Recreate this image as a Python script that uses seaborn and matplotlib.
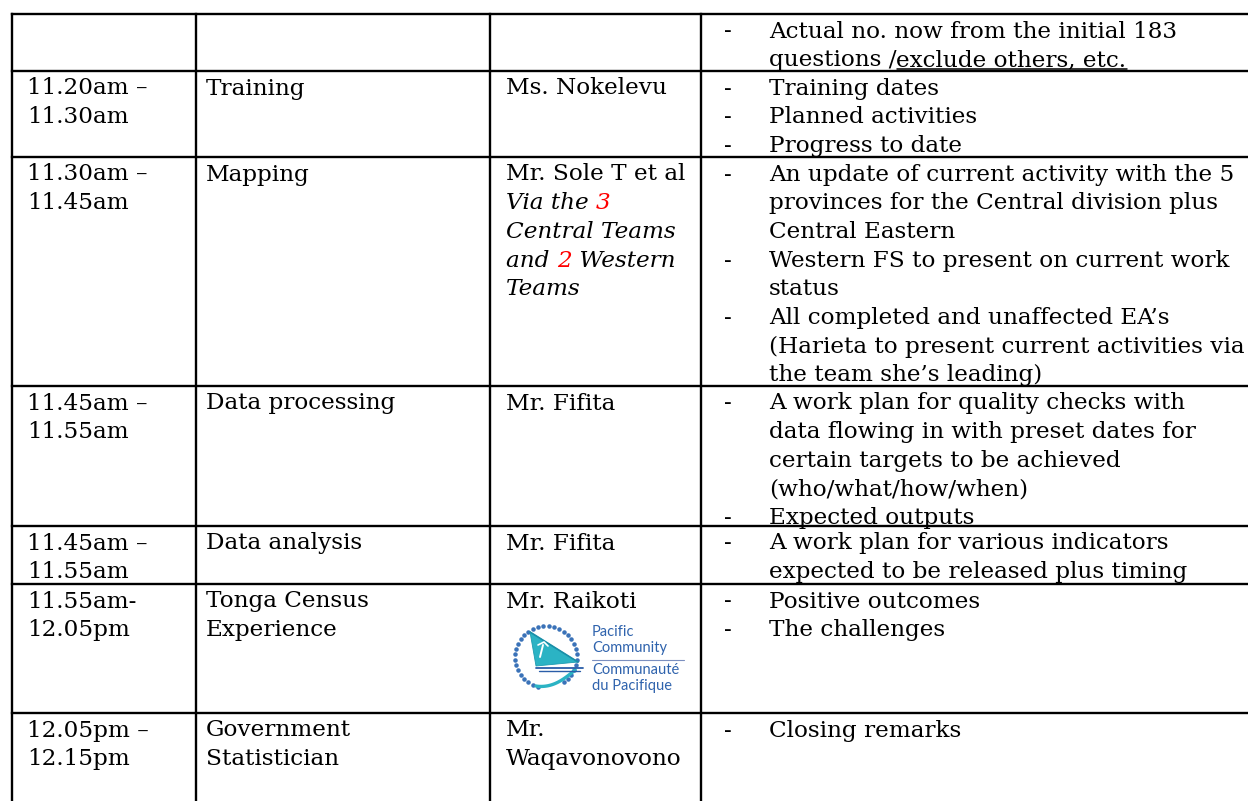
import matplotlib
matplotlib.use("Agg")
import matplotlib.pyplot as plt
import seaborn as sns
import numpy as np
from matplotlib.patches import Polygon

sns.set_theme(style="white")
plt.rcParams['font.family'] = ['DejaVu Serif']

# ---------------- data ----------------
times = [[], ["11.20am –", "11.30am"], ["11.30am –", "11.45am"], ["11.45am –", "11.55am"],
         ["11.45am –", "11.55am"], ["11.55am-", "12.05pm"], ["12.05pm –", "12.15pm"]]
sessions = [[], ["Training"], ["Mapping"], ["Data processing"], ["Data analysis"],
            ["Tonga Census", "Experience"], ["Government", "Statistician"]]
presenters = [[], ["Ms. Nokelevu"], ["Mr. Sole T et al"], ["Mr. Fifita"], ["Mr. Fifita"],
              ["Mr. Raikoti"], ["Mr.", "Waqavonovono"]]
central_teams = "3"
western_teams = "2"
mapping_note = [[("Via the ", "black"), (central_teams, "red")],
                [("Central Teams", "black")],
                [("and ", "black"), (western_teams, "red"), (" Western", "black")],
                [("Teams", "black")]]
topics = [
    [["Actual no. now from the initial 183", "questions /"]],
    [["Training dates"], ["Planned activities"], ["Progress to date"]],
    [["An update of current activity with the 5", "provinces for the Central division plus", "Central Eastern"],
     ["Western FS to present on current work", "status"],
     ["All completed and unaffected EA’s", "(Harieta to present current activities via",
      "the team she’s leading)"]],
    [["A work plan for quality checks with", "data flowing in with preset dates for",
      "certain targets to be achieved", "(who/what/how/when)"], ["Expected outputs"]],
    [["A work plan for various indicators", "expected to be released plus timing"]],
    [["Positive outcomes"], ["The challenges"]],
    [["Closing remarks"]],
]
underlined_tail = "exclude others, etc."
logo_lines = ["Pacific", "Community", "Communauté", "du Pacifique"]

# ---------------- layout ----------------
W, H = 1248, 801
row_tops = [14, 71, 157, 386, 526, 584, 713]
col_lines = [12, 196, 490, 701]
col_text = [27, 206, 506]
dash_x, bullet_x = 724, 769
line_h = 28.7
first_base = 23.5
FS = 16.7

fig = plt.figure(figsize=(W / 100, H / 100), dpi=100)
ax = fig.add_axes([0, 0, 1, 1])
ax.set_xlim(0, W)
ax.set_ylim(H, 0)
ax.axis("off")
fig.patch.set_facecolor("white")

renderer = fig.canvas.get_renderer()


def width_of(t):
    return t.get_window_extent(renderer=renderer).width


lw = 1.7
for y in row_tops:
    ax.plot([col_lines[0], W], [y, y], color="black", lw=lw, solid_capstyle="projecting")
for x in col_lines:
    ax.plot([x, x], [row_tops[0], H], color="black", lw=lw, solid_capstyle="projecting")


def put(x, y, s, **kw):
    return ax.text(x, y, s, fontsize=FS, va="baseline", ha="left", color="black", **kw)


last_text = {}
for r, top in enumerate(row_tops):
    base = top + first_base
    for i, s in enumerate(times[r]):
        put(col_text[0], base + i * line_h, s)
    for i, s in enumerate(sessions[r]):
        put(col_text[1], base + i * line_h, s)
    for i, s in enumerate(presenters[r]):
        put(col_text[2], base + i * line_h, s)
    k = 0
    for bullet in topics[r]:
        put(dash_x, base + k * line_h, "-")
        for s in bullet:
            last_text[r] = put(bullet_x, base + k * line_h, s)
            k += 1

# underlined tail in first row
wq = width_of(last_text[0])
y_u = row_tops[0] + first_base + line_h
tu = put(bullet_x + wq, y_u, underlined_tail)
wu = width_of(tu)
ax.plot([bullet_x + wq, bullet_x + wq + wu], [y_u + 3, y_u + 3], color="black", lw=1.1)

# italic mapping note
for i, segs in enumerate(mapping_note):
    x = col_text[2]
    y = row_tops[2] + first_base + (i + 1) * line_h
    for s, c in segs:
        t = ax.text(x, y, s, fontsize=FS, va="baseline", ha="left", color=c, style="italic")
        x += width_of(t)

# ---------------- logo ----------------
cx, cy, rad = 546, 657, 31
blue = "#2f63ad"
teal = "#2bb3c4"
ang = np.deg2rad(np.linspace(-55, 255, 32))
ax.scatter(cx + rad * np.cos(ang), cy - rad * np.sin(ang), s=5, color="#3a72b8", zorder=3)
ax.add_patch(Polygon([[530, 632], [578, 662], [536, 666]], closed=True, facecolor=teal,
                     edgecolor="#1e9bb0", lw=0.6, zorder=4))
ax.plot([530, 578], [632, 662], color="#1a8fa8", lw=1.2, zorder=5)
ax.plot([536, 583], [668, 668], color="#2a5da8", lw=1.3, zorder=5)
ax.plot([539, 580], [671, 671], color="#2a5da8", lw=1.0, zorder=5)
# palm
ax.plot([540, 543], [657, 645], color="white", lw=1.4, zorder=6)
ax.plot([538, 544, 548], [645, 642, 646], color="white", lw=1.2, zorder=6)
tt = np.linspace(0, 1, 40)
ax.plot(536 + 39 * tt, 686 - 16 * tt ** 1.5 + 3 * np.sin(np.pi * tt), color=teal, lw=2.4, zorder=4)

ly = [632, 648, 670, 686]
for s, y in zip(logo_lines, ly):
    ax.text(592, y, s, fontsize=10.5, color=blue, va="center", ha="left", family="Lato")
ax.plot([592, 684], [659.5, 659.5], color="#7b8fbf", lw=0.8)

fig.savefig("out.png", dpi=100, facecolor="white")
